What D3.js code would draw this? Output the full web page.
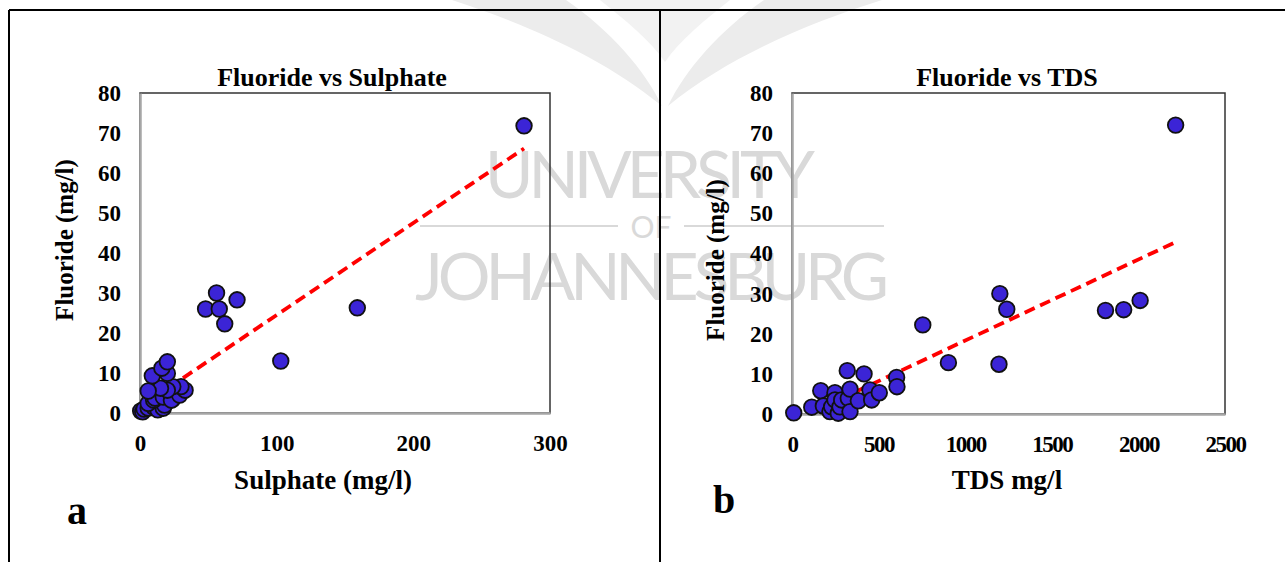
<!DOCTYPE html>
<html>
<head>
<meta charset="utf-8">
<script src="https://cdn.jsdelivr.net/npm/d3@7"></script>
<style>
  body { margin: 0; background: #fff; }
  svg { display: block; }
  text { font-family: "Liberation Serif", "Times New Roman", serif; font-weight: bold; fill: #000; }
</style>
</head>
<body>
<svg id="chart"></svg>
<script>
const width = 1285
const height = 562

// panel a: sulphate vs fluoride (mg/l)
let sulphate = [0.5, 2, 3, 6, 10, 13, 17, 18, 6, 10, 11, 17, 24, 23, 29, 33, 30, 24, 20, 15, 6, 9, 20, 16, 20, 48, 56, 58, 62, 71, 103, 159, 281]
let fluorideA = [0.5, 0.3, 1, 1.2, 1.5, 0.8, 1.2, 2, 2.4, 3.2, 3.7, 4, 3.5, 3.2, 4.5, 5.7, 6.6, 6.6, 5.7, 6.2, 5.5, 9.3, 9.9, 11.2, 12.8, 26, 30, 26, 22.3, 28.3, 13, 26.3, 71.8]

// panel b: TDS vs fluoride (mg/l)
let tds = [10, 114, 166, 181, 219, 229, 248, 248, 267, 277, 287, 319, 325, 335, 335, 383, 416, 450, 460, 504, 604, 606, 755, 903, 1195, 1200, 1240, 1810, 1915, 2010, 2215]
let fluorideB = [0.3, 1.7, 5.8, 2, 0.6, 1.8, 5.3, 3.5, 0.2, 1.8, 3.5, 10.8, 3.9, 6.2, 0.6, 3.3, 10, 6, 3.5, 5.3, 9.1, 6.8, 22.2, 12.8, 12.4, 30, 26.1, 25.8, 26, 28.3, 72]

// linear trendlines: [slope, intercept]
let trendA = [0.23, 1.5]
let trendB = [0.0202, -1.9]

let yTicks = [0, 10, 20, 30, 40, 50, 60, 70, 80]
let xTicksA = [0, 100, 200, 300]
let xTicksB = [0, 500, 1000, 1500, 2000, 2500]

const svg = d3.select('#chart')
    .attr("width", width)
    .attr("height", height)

// faint watermark (logo + university name) behind everything
let wm = svg.append("g")
wm.append("path")
    .attr("d", "M452,0 C520,22 600,55 662,106 C645,70 610,30 566,0 Z")
    .attr("fill", "#ececec")
wm.append("path")
    .attr("d", "M882,0 C812,22 730,55 668,106 C685,70 720,30 764,0 Z")
    .attr("fill", "#ececec")
wm.append("path")
    .attr("d", "M600,0 L730,0 C705,20 680,40 665,62 C650,40 625,20 600,0 Z")
    .attr("fill", "#f2f2f2")
let wmText = [
    {t: "UNIVERSITY", x: 650, y: 198, len: 330, size: 66},
    {t: "OF", x: 651, y: 238, len: null, size: 30},
    {t: "JOHANNESBURG", x: 652, y: 300, len: 474, size: 66}
]
wm.selectAll("text")
    .data(wmText)
    .enter()
    .append("text")
    .attr("x", d => d.x).attr("y", d => d.y)
    .attr("text-anchor", "middle")
    .attr("textLength", d => d.len)
    .style("font-family", "Lato, 'Open Sans', sans-serif")
    .style("font-weight", 400)
    .style("font-size", d => d.size + "px")
    .style("fill", "#d9d9d9")
    .text(d => d.t)
wm.append("line").attr("x1", 420).attr("x2", 618).attr("y1", 226).attr("y2", 226)
    .attr("stroke", "#d9d9d9").attr("stroke-width", 2)
wm.append("line").attr("x1", 684).attr("x2", 884).attr("y1", 226).attr("y2", 226)
    .attr("stroke", "#d9d9d9").attr("stroke-width", 2)

// outer frame of the figure
let frame = svg.append("g").attr("stroke", "#000").attr("stroke-width", 2)
frame.append("line").attr("x1", 9).attr("x2", width).attr("y1", 10).attr("y2", 10)
frame.append("line").attr("x1", 9).attr("x2", 9).attr("y1", 10).attr("y2", height)
frame.append("line").attr("x1", 660).attr("x2", 660).attr("y1", 10).attr("y2", height)

function scatter(opt) {
    let x = d3.scaleLinear().domain(opt.xDomain).range([opt.left, opt.right])
    let y = d3.scaleLinear().domain([0, 80]).range([opt.bottom, opt.top])
    let g = svg.append("g")

    g.append("clipPath").attr("id", opt.id + "-clip")
        .append("rect")
        .attr("x", opt.left).attr("y", opt.top)
        .attr("width", opt.right - opt.left)
        .attr("height", opt.bottom - opt.top)

    // plot area border
    g.append("rect")
        .attr("x", opt.left).attr("y", opt.top)
        .attr("width", opt.right - opt.left)
        .attr("height", opt.bottom - opt.top)
        .attr("fill", "none")
        .attr("stroke", "#333")
        .attr("stroke-width", 1.5)

    let yAxis = g.append("g")
        .attr("transform", `translate(${opt.left},0)`)
        .call(d3.axisLeft(y).tickValues(yTicks).tickSize(0).tickPadding(19))
    let xAxis = g.append("g")
        .attr("transform", `translate(0,${opt.bottom})`)
        .call(d3.axisBottom(x).tickValues(opt.xTicks).tickSize(0).tickPadding(22).tickFormat(d3.format("d")))
    for (let ax of [yAxis, xAxis]) {
        ax.select(".domain").attr("stroke", "#a6a6a6").attr("stroke-width", 2.5)
        ax.selectAll("text")
            .style("font-family", "'Liberation Serif', serif")
            .style("font-weight", "bold")
            .style("font-size", "23px")
            .attr("fill", "#000")
    }
    xAxis.selectAll("text").style("letter-spacing", opt.squeeze)

    // trendline over the data range, clipped to the plot area
    let xs = d3.extent(opt.xs)
    g.append("line")
        .attr("clip-path", `url(#${opt.id}-clip)`)
        .attr("x1", x(xs[0])).attr("y1", y(opt.trend[0] * xs[0] + opt.trend[1]))
        .attr("x2", x(xs[1])).attr("y2", y(opt.trend[0] * xs[1] + opt.trend[1]))
        .attr("stroke", "#ff0000")
        .attr("stroke-width", 3.8)
        .attr("stroke-dasharray", "11,6")

    g.append("g")
        .attr("fill", "#3b24d6")
        .attr("stroke", "#111")
        .attr("stroke-width", 1.8)
        .selectAll("circle")
        .data(d3.zip(opt.xs, opt.ys))
        .enter()
        .append("circle")
        .attr("cx", d => x(d[0]))
        .attr("cy", d => y(d[1]))
        .attr("r", 7.8)

    g.append("text")
        .attr("x", opt.titleX).attr("y", 86)
        .attr("text-anchor", "middle")
        .style("font-size", "26px")
        .text(opt.title)
    g.append("text")
        .attr("x", opt.xLabelX).attr("y", 489)
        .attr("text-anchor", "middle")
        .style("font-size", "27px")
        .text(opt.xLabel)
    g.append("text")
        .attr("transform", `translate(${opt.yLabelX},${opt.yLabelY}) rotate(-90)`)
        .attr("text-anchor", "middle")
        .style("font-size", "25px")
        .text("Fluoride (mg/l)")
    g.append("text")
        .attr("x", opt.letterX).attr("y", opt.letterY)
        .style("font-size", "40px")
        .text(opt.letter)
}

scatter({
    id: "a",
    xs: sulphate, ys: fluorideA, trend: trendA,
    xDomain: [0, 300], xTicks: xTicksA,
    left: 140, right: 550, top: 93, bottom: 413,
    title: "Fluoride vs Sulphate", titleX: 332,
    xLabel: "Sulphate (mg/l)", xLabelX: 323,
    yLabelX: 73, yLabelY: 240,
    letter: "a", letterX: 67, letterY: 524,
    squeeze: "0px"
})

scatter({
    id: "b",
    xs: tds, ys: fluorideB, trend: trendB,
    xDomain: [0, 2500], xTicks: xTicksB,
    left: 792, right: 1225, top: 93, bottom: 414,
    title: "Fluoride vs TDS", titleX: 1007,
    xLabel: "TDS mg/l", xLabelX: 1007,
    yLabelX: 724, yLabelY: 260,
    letter: "b", letterX: 713, letterY: 513,
    squeeze: "-1.5px"
})
</script>
</body>
</html>
